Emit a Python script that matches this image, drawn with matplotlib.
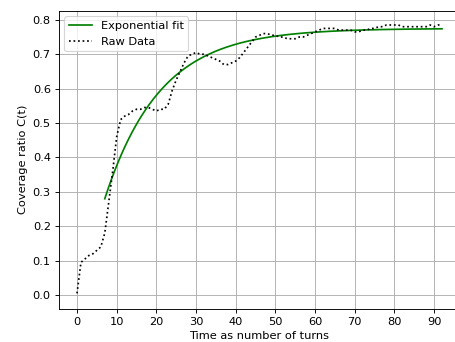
import numpy as np
import matplotlib
matplotlib.use("Agg")
import matplotlib.pyplot as plt

# Raw data (one value per turn)
turns = list(range(0, 93))
coverage = [0.005, 0.095, 0.105, 0.115, 0.12, 0.13, 0.14, 0.18, 0.27, 0.36,
            0.46, 0.51, 0.52, 0.525, 0.535, 0.54, 0.54, 0.545, 0.545, 0.54,
            0.535, 0.54, 0.54, 0.555, 0.595, 0.625, 0.65, 0.675, 0.695, 0.70,
            0.705, 0.70, 0.70, 0.695, 0.69, 0.685, 0.68, 0.67, 0.67, 0.675,
            0.68, 0.69, 0.705, 0.72, 0.735, 0.75, 0.755, 0.76, 0.76, 0.755,
            0.755, 0.75, 0.75, 0.745, 0.745, 0.745, 0.75, 0.75, 0.755, 0.76,
            0.765, 0.77, 0.775, 0.775, 0.775, 0.775, 0.77, 0.77, 0.77, 0.77,
            0.765, 0.765, 0.77, 0.77, 0.775, 0.775, 0.78, 0.78, 0.785, 0.785,
            0.785, 0.785, 0.78, 0.78, 0.78, 0.78, 0.78, 0.78, 0.78, 0.785,
            0.78, 0.785, 0.785]

# Exponential fit parameters: C(t) = a - b * exp(-(t - t0) / tau)
fit_a = 0.775
fit_b = 0.495
fit_t0 = 7.0
fit_tau = 13.9
fit_range = [7.0, 92.0]

t_fit = np.linspace(fit_range[0], fit_range[1], 300)
c_fit = fit_a - fit_b * np.exp(-(t_fit - fit_t0) / fit_tau)

DPI = 82
W, H = 455, 342
fig = plt.figure(figsize=(W / DPI, H / DPI), dpi=DPI)
ax = fig.add_axes([58.75 / W, 1 - 308.6 / H, 401.5 / W, 297.9 / H])

ax.plot(t_fit, c_fit, color="green", lw=1.5, label="Exponential fit")
ax.plot(turns, coverage, color="black", ls=":", lw=1.5, label="Raw Data")

ax.set_xlim(-4.6, 96.6)
ax.set_ylim(-0.0393, 0.8265)
ax.set_xticks(np.arange(0, 91, 10))
ax.set_yticks(np.arange(0, 0.81, 0.1))
ax.grid(True, color="#b0b0b0", lw=0.8)
ax.set_axisbelow(True)
ax.set_xlabel("Time as number of turns")
ax.set_ylabel("Coverage ratio C(t)")
ax.legend(loc="upper left")

fig.savefig("out.png", dpi=DPI)
